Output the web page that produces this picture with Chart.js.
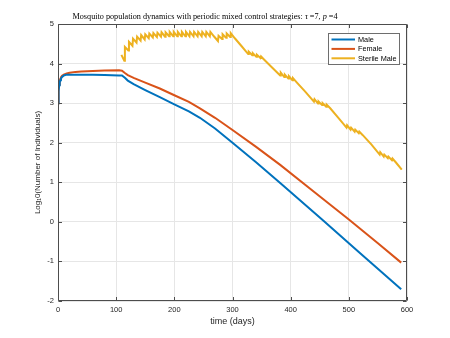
<!DOCTYPE html>
<html>
<head>
<meta charset="utf-8">
<script src="https://cdn.jsdelivr.net/npm/chart.js@4.4.1/dist/chart.umd.min.js"></script>
<style>
html,body{margin:0;padding:0;background:#ffffff;}
#wrap{width:450px;height:338px;}
</style>
</head>
<body>
<div id="wrap"><canvas id="c" width="450" height="338"></canvas></div>
<script>
// ---------- data ----------
const titleParts = [
  ['Mosquito population dynamics with periodic mixed control strategies: ', false],
  ['\u03C4', true],
  [' =7, ', false],
  ['p', true],
  [' =4', false]
];
const xAxisTitle = 'time (days)';
const yAxisTitle = 'Log\u20810(Number of Individuals)';
const xTickValues = [0, 100, 200, 300, 400, 500, 600];
const yTickValues = [-2, -1, 0, 1, 2, 3, 4, 5];
const seriesNames = ['Male', 'Female', 'Sterile Male'];
const seriesColors = ['#0072BD', '#D95319', '#EDB120'];

const maleDays   = [0, 1, 2, 3, 4, 5, 7, 10, 15, 20, 40, 60, 80, 105, 110, 115, 120, 130, 150, 175, 200, 225, 244, 270, 300, 340, 382, 453, 520, 590];
const maleValues = [3.0, 3.3, 3.45, 3.53, 3.58, 3.62, 3.66, 3.70, 3.72, 3.72, 3.72, 3.715, 3.71, 3.70, 3.70, 3.64, 3.57, 3.48, 3.33, 3.15, 2.97, 2.79, 2.63, 2.36, 2.00, 1.51, 0.98, 0.07, -0.80, -1.70];

const femaleDays   = [0, 1, 2, 3, 4, 5, 7, 10, 15, 20, 30, 40, 60, 80, 105, 110, 115, 120, 130, 150, 175, 200, 225, 244, 270, 300, 340, 382, 440, 499, 550, 590];
const femaleValues = [3.0, 3.32, 3.47, 3.56, 3.61, 3.65, 3.69, 3.72, 3.75, 3.77, 3.79, 3.80, 3.815, 3.825, 3.83, 3.82, 3.76, 3.71, 3.64, 3.52, 3.37, 3.20, 3.03, 2.87, 2.63, 2.32, 1.90, 1.44, 0.76, 0.07, -0.54, -1.03];

const sterileDays = [109, 114, 115, 121, 122, 128, 129, 135, 136, 142, 143, 149, 150, 156, 157, 163, 164, 170, 171, 177, 178, 184, 185, 191, 192, 198, 199, 205, 206, 212, 213, 219, 220, 226, 227, 233, 234, 240, 241, 247, 248, 254, 255, 261, 262, 268,
  275, 276, 282, 283, 289, 290, 296, 297, 304, 315,
  327, 328, 334, 335, 341, 342, 348, 349, 355, 368,
  382, 383, 389, 390, 396, 397, 403, 404, 410, 425,
  440, 441, 447, 448, 454, 455, 461, 462, 468, 482,
  496, 497, 503, 504, 510, 511, 517, 518, 524, 539,
  553, 554, 560, 561, 567, 568, 574, 575, 581, 591];
const sterileValues = [4.22, 4.07, 4.42, 4.33, 4.55, 4.45, 4.63, 4.53, 4.68, 4.58, 4.72, 4.61, 4.74, 4.64, 4.76, 4.66, 4.77, 4.67, 4.78, 4.68, 4.79, 4.68, 4.79, 4.69, 4.80, 4.69, 4.80, 4.69, 4.80, 4.69, 4.80, 4.69, 4.80, 4.69, 4.80, 4.69, 4.80, 4.69, 4.80, 4.69, 4.80, 4.69, 4.80, 4.69, 4.80, 4.69,
  4.57, 4.70, 4.62, 4.74, 4.65, 4.76, 4.67, 4.77, 4.64, 4.45,
  4.24, 4.30, 4.21, 4.26, 4.17, 4.22, 4.14, 4.18, 4.09, 3.90,
  3.70, 3.77, 3.66, 3.72, 3.62, 3.68, 3.58, 3.63, 3.53, 3.29,
  3.04, 3.10, 2.99, 3.04, 2.95, 3.00, 2.91, 2.96, 2.87, 2.63,
  2.38, 2.44, 2.33, 2.38, 2.28, 2.33, 2.24, 2.28, 2.19, 1.95,
  1.70, 1.76, 1.65, 1.70, 1.61, 1.65, 1.56, 1.60, 1.50, 1.32];

function pairs(xs, ys) { return xs.map((x, i) => ({ x: x, y: ys[i] })); }

// ---------- plugins ----------
const AXIS_COLOR = '#4d4d4d';
const TEXT_COLOR = '#262626';

const framePlugin = {
  id: 'frame',
  afterDraw(chart) {
    const ctx = chart.ctx, a = chart.chartArea;
    const xs = chart.scales.x, ys = chart.scales.y;
    const L = Math.round(a.left) + 0.5, R = Math.round(a.right) - 0.5;
    const T = Math.round(a.top) + 0.5, B = Math.round(a.bottom) - 0.5;
    ctx.save();
    ctx.strokeStyle = AXIS_COLOR;
    ctx.lineWidth = 1;
    ctx.beginPath();
    ctx.rect(L, T, R - L, B - T);
    const tl = 3.5;
    xTickValues.forEach(v => {
      const px = Math.round(xs.getPixelForValue(v)) + 0.5;
      ctx.moveTo(px, B); ctx.lineTo(px, B - tl);
      ctx.moveTo(px, T); ctx.lineTo(px, T + tl);
    });
    yTickValues.forEach(v => {
      const py = Math.round(ys.getPixelForValue(v)) + 0.5;
      ctx.moveTo(L, py); ctx.lineTo(L + tl, py);
      ctx.moveTo(R, py); ctx.lineTo(R - tl, py);
    });
    ctx.stroke();

    // legend
    const bw = 71, bh = 31;
    const bx = Math.round(a.right - 8 - bw) + 0.5, by = Math.round(a.top + 9) + 0.5;
    ctx.fillStyle = '#ffffff';
    ctx.fillRect(bx, by, bw, bh);
    ctx.strokeStyle = '#6e6e6e';
    ctx.strokeRect(bx, by, bw, bh);
    ctx.font = '7.3px "Liberation Sans", Arial, sans-serif';
    ctx.textBaseline = 'middle';
    ctx.textAlign = 'left';
    chart.data.datasets.forEach((ds, i) => {
      const yy = by + 6 + i * 9.4;
      ctx.strokeStyle = ds.borderColor;
      ctx.lineWidth = 2;
      ctx.beginPath();
      ctx.moveTo(bx + 3, yy); ctx.lineTo(bx + 26.5, yy);
      ctx.stroke();
      ctx.fillStyle = '#000000';
      ctx.fillText(ds.label, bx + 29.5, yy + 0.5);
    });

    // title
    const normalFont = '8.2px "Liberation Serif", "DejaVu Serif", serif';
    const italicFont = 'italic 8.2px "Liberation Serif", "DejaVu Serif", serif';
    let total = 0;
    titleParts.forEach(p => { ctx.font = p[1] ? italicFont : normalFont; total += ctx.measureText(p[0]).width; });
    let tx = a.left + 147 - total / 2;
    const ty = a.top - 7;
    ctx.fillStyle = '#000000';
    ctx.textBaseline = 'middle';
    titleParts.forEach(p => {
      ctx.font = p[1] ? italicFont : normalFont;
      ctx.fillText(p[0], tx, ty);
      tx += ctx.measureText(p[0]).width;
    });
    ctx.restore();
  }
};

const whiteBg = {
  id: 'whiteBg',
  beforeDraw(chart) {
    const ctx = chart.ctx;
    ctx.save();
    ctx.fillStyle = '#ffffff';
    ctx.fillRect(0, 0, chart.width, chart.height);
    ctx.restore();
  }
};

// ---------- chart ----------
const tickFont = { family: '"Liberation Sans", Arial, sans-serif', size: 7.5 };

new Chart(document.getElementById('c'), {
  type: 'line',
  data: {
    datasets: [
      { label: seriesNames[0], data: pairs(maleDays, maleValues), borderColor: seriesColors[0], backgroundColor: seriesColors[0], borderWidth: 2, pointRadius: 0, tension: 0, fill: false },
      { label: seriesNames[1], data: pairs(femaleDays, femaleValues), borderColor: seriesColors[1], backgroundColor: seriesColors[1], borderWidth: 2, pointRadius: 0, tension: 0, fill: false },
      { label: seriesNames[2], data: pairs(sterileDays, sterileValues), borderColor: seriesColors[2], backgroundColor: seriesColors[2], borderWidth: 2, pointRadius: 0, tension: 0, fill: false }
    ]
  },
  options: {
    responsive: false,
    animation: false,
    devicePixelRatio: 1,
    layout: { padding: { left: 0, right: 43, top: 24, bottom: 7 } },
    plugins: {
      legend: { display: false },
      title: { display: false },
      tooltip: { enabled: false }
    },
    scales: {
      x: {
        type: 'linear',
        min: 0, max: 600,
        afterBuildTicks: s => { s.ticks = xTickValues.map(v => ({ value: v })); },
        afterFit: s => { s.height = 30; },
        ticks: { font: tickFont, color: TEXT_COLOR, padding: 4, maxRotation: 0, autoSkip: false },
        grid: { color: '#e6e6e6', lineWidth: 1, drawTicks: false },
        border: { display: false },
        title: { display: true, text: xAxisTitle, color: TEXT_COLOR, font: { family: '"Liberation Sans", Arial, sans-serif', size: 9 }, padding: { top: 0, bottom: 3.6 } }
      },
      y: {
        type: 'linear',
        min: -2, max: 5,
        afterBuildTicks: s => { s.ticks = yTickValues.map(v => ({ value: v })); },
        afterFit: s => { s.width = 58; },
        ticks: { font: tickFont, color: TEXT_COLOR, padding: 4, autoSkip: false },
        grid: { color: '#e6e6e6', lineWidth: 1, drawTicks: false },
        border: { display: false },
        title: { display: true, text: yAxisTitle, color: TEXT_COLOR, font: { family: '"Liberation Sans", Arial, sans-serif', size: 8 }, padding: { top: 33, bottom: 0 } }
      }
    }
  },
  plugins: [whiteBg, framePlugin]
});
</script>
</body>
</html>
